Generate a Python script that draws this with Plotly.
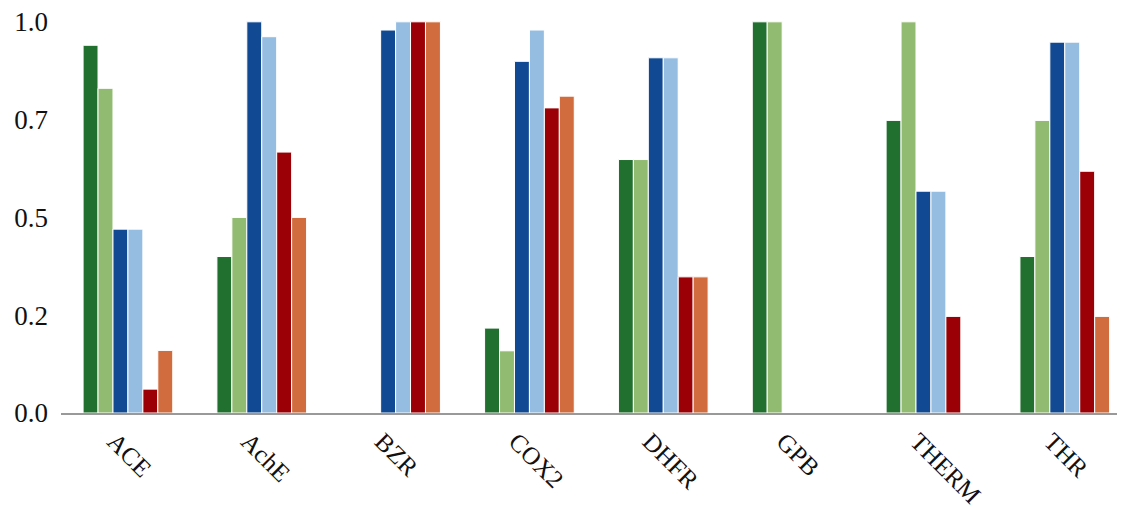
import plotly.graph_objects as go

categories = ["ACE", "AchE", "BZR", "COX2", "DHFR", "GPB", "THERM", "THR"]
series_names = ["S1", "S2", "S3", "S4", "S5", "S6"]
s1 = [0.94, 0.40, None, 0.217, 0.648, 1.0, 0.748, 0.40]
s2 = [0.83, 0.50, None, 0.159, 0.648, 1.0, 1.0, 0.748]
s3 = [0.47, 1.0, 0.979, 0.899, 0.908, None, 0.567, 0.948]
s4 = [0.47, 0.962, 1.0, 0.979, 0.908, None, 0.567, 0.948]
s5 = [0.061, 0.667, 1.0, 0.78, 0.348, None, 0.247, 0.618]
s6 = [0.16, 0.50, 1.0, 0.81, 0.348, None, None, 0.247]
colors = ["#22702f", "#92bb72", "#114a93", "#95bde1", "#9b0006", "#d06c3e"]
tick_vals = [0, 0.25, 0.5, 0.75, 1.0]
tick_text = ["0.0", "0.2", "0.5", "0.7", "1.0"]

xpos = list(range(len(categories)))
label_pos = [i - 0.1 for i in xpos]

fig = go.Figure()
for name, vals, c in zip(series_names, [s1, s2, s3, s4, s5, s6], colors):
    fig.add_trace(go.Bar(x=xpos, y=vals, name=name,
                         marker=dict(color=c, line=dict(color="white", width=1))))

fig.update_layout(
    width=1117, height=500,
    margin=dict(l=53, r=0, t=6, b=95),
    paper_bgcolor="white", plot_bgcolor="white",
    barmode="group", bargap=0.33, bargroupgap=0.0,
    showlegend=False,
    font=dict(family="Liberation Serif", color="#111111"),
)
fig.update_xaxes(
    range=[-0.5, 7.45], tickangle=45, tickfont=dict(size=25),
    tickmode="array", tickvals=label_pos, ticktext=categories,
    showline=True, linecolor="#999999", linewidth=2,
    ticks="", showgrid=False, zeroline=False, automargin=False,
    ticklabelstandoff=2,
)
fig.update_yaxes(
    range=[0, 1.02], tickvals=tick_vals, ticktext=tick_text,
    tickfont=dict(size=27), showgrid=False, zeroline=False,
    showline=False, ticks="", ticklabelstandoff=12, automargin=False,
    ticklabeloverflow="allow",
)
fig.write_html("out.html")
